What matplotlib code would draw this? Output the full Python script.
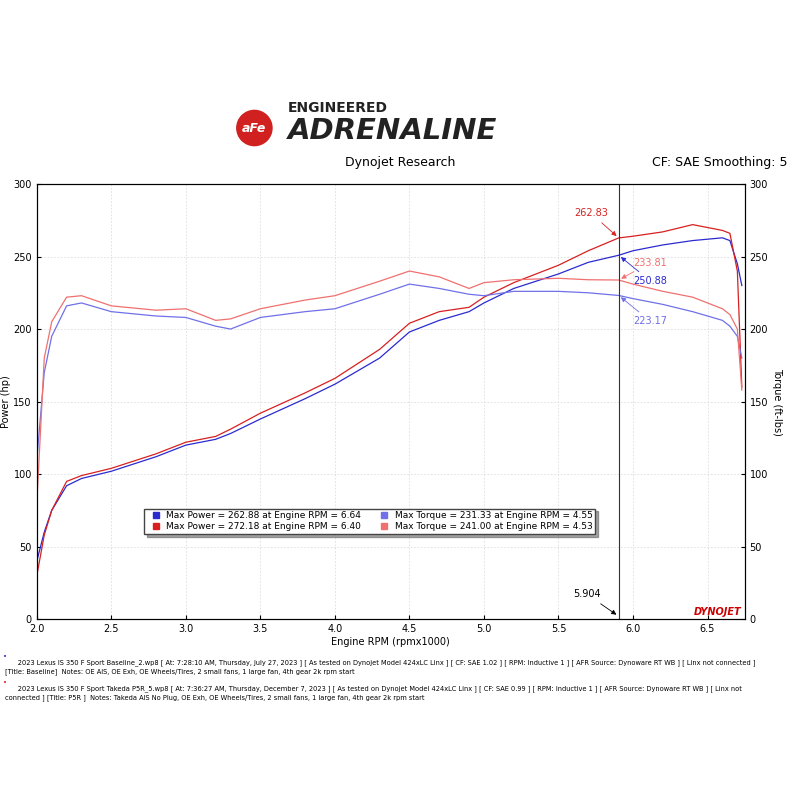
import matplotlib.pyplot as plt
from matplotlib.patches import Circle

rpm = [2.0, 2.05, 2.1, 2.2, 2.3, 2.5, 2.8, 3.0, 3.2, 3.3, 3.5, 3.8, 4.0, 4.3, 4.5, 4.7,
       4.9, 5.0, 5.2, 5.5, 5.7, 5.904, 6.0, 6.2, 6.4, 6.6, 6.65, 6.7, 6.73]
base_hp = [40, 60, 75, 92, 97, 102, 112, 120, 124, 128, 138, 152, 162, 180, 198, 206,
           212, 218, 228, 238, 246, 250.88, 254, 258, 261, 262.9, 261, 245, 230]
p5r_hp = [30, 58, 75, 95, 99, 104, 114, 122, 126, 131, 142, 156, 166, 186, 204, 212,
          215, 222, 232, 244, 254, 262.83, 264, 267, 272, 268, 266, 240, 160]
base_tq = [110, 170, 195, 216, 218, 212, 209, 208, 202, 200, 208, 212, 214, 224, 231, 228,
           224, 223, 226, 226, 225, 223.17, 221, 217, 212, 206, 202, 195, 180]
p5r_tq = [80, 180, 205, 222, 223, 216, 213, 214, 206, 207, 214, 220, 223, 233, 240, 236,
          228, 232, 234, 235, 234, 233.81, 231, 226, 222, 214, 210, 200, 158]
cursor_rpm = 5.904

blue, red, lblue, lred = '#2b2bd0', '#d82020', '#7070e8', '#f07070'

fig = plt.figure(figsize=(8, 8), dpi=100)
ax = fig.add_axes([0.046, 0.226, 0.885, 0.544])
ax.plot(rpm, base_hp, color=blue, lw=0.9)
ax.plot(rpm, p5r_hp, color=red, lw=0.9)
ax.plot(rpm, base_tq, color=lblue, lw=0.9)
ax.plot(rpm, p5r_tq, color=lred, lw=0.9)
ax.set_xlim(2.0, 6.75)
ax.set_ylim(0, 300)
ax.set_xticks([2.0, 2.5, 3.0, 3.5, 4.0, 4.5, 5.0, 5.5, 6.0, 6.5])
ax.set_yticks(range(0, 301, 50))
ax.tick_params(labelsize=7, direction='in', length=3)
ax.grid(True, color='#dddddd', lw=0.6, ls=(0, (2, 2)))
ax.set_xlabel('Engine RPM (rpmx1000)', fontsize=7, labelpad=2)
ax.set_ylabel('Power (hp)', fontsize=7, labelpad=2)
ax2 = ax.twinx()
ax2.set_ylim(0, 300)
ax2.set_yticks(range(0, 301, 50))
ax2.tick_params(labelsize=7, direction='in', length=3)
ax2.set_ylabel('Torque (ft-lbs)', fontsize=7, rotation=270, labelpad=10)

ax.axvline(cursor_rpm, color='#333333', lw=0.8)
ax.annotate('5.904', xy=(cursor_rpm, 2), xytext=(5.6, 15), fontsize=7,
            arrowprops=dict(arrowstyle='-|>', color='black', lw=0.6))
for val, col, dx, dy in [(262.83, red, -0.3, 15), (250.88, blue, 0.1, -20),
                         (233.81, lred, 0.1, 10), (223.17, lblue, 0.1, -20)]:
    ax.annotate(f'{val:.2f}', xy=(cursor_rpm, val), xytext=(cursor_rpm + dx, val + dy),
                fontsize=7, color=col,
                arrowprops=dict(arrowstyle='-|>', color=col, lw=0.6))

# ncol=2 fills column-wise
leg = [(blue, 'Max Power = 262.88 at Engine RPM = 6.64'),
       (red, 'Max Power = 272.18 at Engine RPM = 6.40'),
       (lblue, 'Max Torque = 231.33 at Engine RPM = 4.55'),
       (lred, 'Max Torque = 241.00 at Engine RPM = 4.53')]
handles = [plt.Line2D([], [], marker='s', ls='', color=c, markersize=5) for c, _ in leg]
lg = ax.legend(handles, [t for _, t in leg], ncol=2, fontsize=6.5, loc='center',
               bbox_to_anchor=(0.47, 0.225), frameon=True, fancybox=False,
               shadow=True, handletextpad=0.2, columnspacing=1.5, borderpad=0.3,
               labelspacing=0.2)
lg.get_frame().set_edgecolor('#444444')
ax.text(0.995, 0.005, 'DYNOJET', transform=ax.transAxes, ha='right', va='bottom',
        fontsize=7, color='#cc0000', fontweight='bold', style='italic')

# header
fig.patches.append(Circle((0.318, 0.84), 0.022, transform=fig.transFigure,
                          color='#d02020'))
fig.text(0.318, 0.84, 'aFe', ha='center', va='center', fontsize=9, color='white',
         fontweight='bold', style='italic')
fig.text(0.36, 0.86, 'ENGINEERED', fontsize=10, fontweight='bold', color='#222222')
fig.text(0.36, 0.826, 'ADRENALINE', fontsize=21, fontweight='bold', color='#222222',
         style='italic')
fig.text(0.5, 0.792, 'Dynojet Research', ha='center', fontsize=9)
fig.text(0.985, 0.792, 'CF: SAE Smoothing: 5', ha='right', fontsize=9)

notes = [
    (blue, '2023 Lexus IS 350 F Sport Baseline_2.wp8 [ At: 7:28:10 AM, Thursday, July 27, 2023 ] [ As tested on Dynojet Model 424xLC Linx ] [ CF: SAE 1.02 ] [ RPM: Inductive 1 ] [ AFR Source: Dynoware RT WB ] [ Linx not connected ]\n[Title: Baseline]  Notes: OE AIS, OE Exh, OE Wheels/Tires, 2 small fans, 1 large fan, 4th gear 2k rpm start', 0.176),
    (red, '2023 Lexus IS 350 F Sport Takeda P5R_5.wp8 [ At: 7:36:27 AM, Thursday, December 7, 2023 ] [ As tested on Dynojet Model 424xLC Linx ] [ CF: SAE 0.99 ] [ RPM: Inductive 1 ] [ AFR Source: Dynoware RT WB ] [ Linx not\nconnected ] [Title: P5R ]  Notes: Takeda AIS No Plug, OE Exh, OE Wheels/Tires, 2 small fans, 1 large fan, 4th gear 2k rpm start', 0.144),
]
for col, txt, y in notes:
    fig.text(0.004, y + 0.006, '•', color=col, fontsize=5, va='top')
    fig.text(0.006, y, '      ' + txt, fontsize=4.8, va='top', linespacing=1.5)

fig.savefig('out.png', dpi=100)
